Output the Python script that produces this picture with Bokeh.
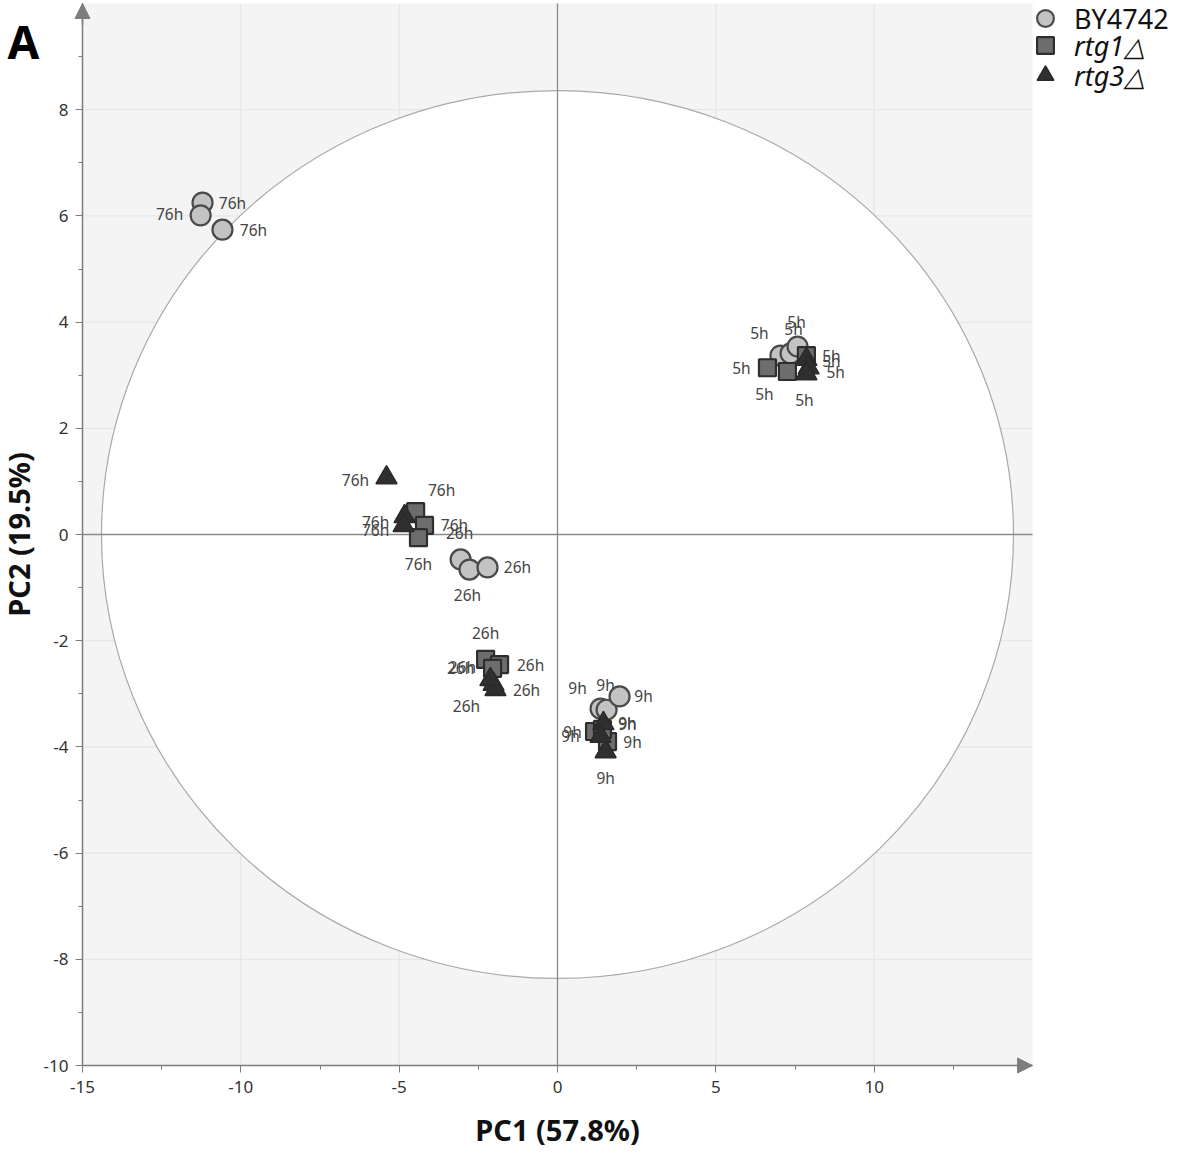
from bokeh.plotting import figure
from bokeh.models import (Range1d, FixedTicker, Legend, LegendItem, Label, Arrow,
                          NormalHead, ColumnDataSource, LinearAxis)
from bokeh.core.properties import value
from bokeh.embed import file_html
from bokeh.resources import INLINE

# ---------------- data ----------------
groups = ["BY4742", "rtg1△", "rtg3△"]

by_x = [-11.21, -11.27, -10.58, -3.06, -2.78, -2.21, 1.36, 1.55, 1.96, 7.04, 7.36, 7.58]
by_y = [6.25, 6.01, 5.74, -0.47, -0.66, -0.62, -3.28, -3.30, -3.05, 3.37, 3.41, 3.54]
by_t = ["76h", "76h", "76h", "26h", "26h", "26h", "9h", "9h", "9h", "5h", "5h", "5h"]

r1_x = [-4.48, -4.20, -4.39, -2.27, -1.83, -2.05, 1.17, 1.58, 1.42, 6.63, 7.26, 7.86]
r1_y = [0.43, 0.17, -0.06, -2.35, -2.45, -2.52, -3.71, -3.90, -3.67, 3.14, 3.07, 3.37]
r1_t = ["76h", "76h", "76h", "26h", "26h", "26h", "9h", "9h", "9h", "5h", "5h", "5h"]

r3_x = [-5.40, -4.83, -4.86, -2.02, -1.96, -2.12, 1.52, 1.45, 1.36, 7.86, 7.93, 7.86]
r3_y = [1.07, 0.34, 0.17, -2.82, -2.92, -2.73, -4.09, -3.56, -3.80, 3.30, 3.14, 3.03]
r3_t = ["76h", "76h", "76h", "26h", "26h", "26h", "9h", "9h", "9h", "5h", "5h", "5h"]

# label placement offsets (screen px, style only)
by_dx = [30, -31, 31, -1, -2, 30, -23, -1, 24, -21, 3, -1]
by_dy = [0, -1, 0, -26, 25, 0, -21, -25, 0, -23, -24, -25]
r1_dx = [26, 30, 0, 0, 31, -32, -22, 25, 25, -26, -23, 25]
r1_dy = [-22, 0, 26, -26, 0, 0, 0, 0, -6, 0, 23, 0]
r3_dx = [-31, -29, -28, 33, -29, -28, 0, 24, -30, 25, 27, -2]
r3_dy = [2, 6, 5, 6, 16, -12, 26, 0, 0, 2, 4, 26]

x_ticks = [-15, -10, -5, 0, 5, 10]
y_ticks = [-10, -8, -6, -4, -2, 0, 2, 4, 6, 8]
x_minor = [-12.5, -7.5, -2.5, 2.5, 7.5, 12.5]
y_minor = [-9, -7, -5, -3, -1, 1, 3, 5, 7, 9]

XMIN, XMAX = -15, 15
YMIN, YMAX = -10, 10

ellipse_w = 28.8   # Hotelling T2 ellipse full width (PC1)
ellipse_h = 16.72  # full height (PC2)

# ---------------- layout constants (pixels) ----------------
W, H = 1182, 1153
LEFT, RIGHT, TOP, BOTTOM = 82, 1032, 3, 1065
sx = (RIGHT - LEFT) / (XMAX - XMIN)
sy = (BOTTOM - TOP) / (YMAX - YMIN)
xr = Range1d(XMIN - LEFT / sx, XMAX + (W - RIGHT) / sx)
yr = Range1d(YMIN - (H - BOTTOM) / sy, YMAX + TOP / sy)

FONT = "Noto Sans"
AX = "#7d7d7d"
GRID = "#e3e3e3"

p = figure(width=W, height=H, output_backend="svg", toolbar_location=None,
           x_range=xr, y_range=yr, x_axis_location=None, y_axis_location=None,
           min_border=0)
p.outline_line_color = None
p.background_fill_color = "white"
p.border_fill_color = "white"
p.grid.visible = False

# plot-area background
p.quad(left=[XMIN], right=[XMAX], bottom=[YMIN], top=[YMAX],
       fill_color="#f4f4f4", line_color=None, level="image")

# grid lines at the major ticks, limited to the plot area
p.segment(x0=x_ticks, y0=[YMIN] * len(x_ticks), x1=x_ticks, y1=[YMAX] * len(x_ticks),
          line_color=GRID, line_width=1, level="underlay")
p.segment(x0=[XMIN] * len(y_ticks), y0=y_ticks, x1=[XMAX] * len(y_ticks), y1=y_ticks,
          line_color=GRID, line_width=1, level="underlay")

xaxis = LinearAxis(fixed_location=YMIN, bounds=(XMIN, XMAX),
                   ticker=FixedTicker(ticks=x_ticks, minor_ticks=x_minor),
                   axis_label="PC1 (57.8%)")
yaxis = LinearAxis(fixed_location=XMIN, bounds=(YMIN, YMAX),
                   ticker=FixedTicker(ticks=y_ticks, minor_ticks=y_minor),
                   axis_label="PC2 (19.5%)")
xaxis.major_label_overrides = {t: str(t) for t in x_ticks}
yaxis.major_label_overrides = {t: str(t) for t in y_ticks}
for ax in (xaxis, yaxis):
    ax.axis_line_color = AX
    ax.axis_line_width = 1.5
    ax.major_tick_line_color = AX
    ax.minor_tick_line_color = AX
    ax.major_tick_out = 7
    ax.major_tick_in = 0
    ax.minor_tick_out = 4
    ax.minor_tick_in = 0
    ax.major_label_text_font = FONT
    ax.major_label_text_font_size = "17px"
    ax.major_label_text_color = "#333333"
    ax.axis_label_text_font = FONT
    ax.axis_label_text_font_size = "29px"
    ax.axis_label_text_font_style = "bold"
    ax.axis_label_text_color = "#111111"
xaxis.major_label_standoff = 8
xaxis.axis_label_standoff = 14
yaxis.major_label_standoff = 7
yaxis.axis_label_standoff = 3
p.add_layout(xaxis, "below")
p.add_layout(yaxis, "left")

# ellipse and zero lines
p.ellipse(x=[0], y=[0], width=[ellipse_w], height=[ellipse_h],
          fill_color="white", line_color="#a9a9a9", line_width=1.2)
p.segment(x0=[0, XMIN], y0=[YMIN, 0], x1=[0, XMAX], y1=[YMAX, 0],
          line_color="#8a8a8a", line_width=1.3)

src_by = ColumnDataSource(dict(x=by_x, y=by_y, t=by_t, dx=by_dx, dy=by_dy))
src_r1 = ColumnDataSource(dict(x=r1_x, y=r1_y, t=r1_t, dx=r1_dx, dy=r1_dy))
src_r3 = ColumnDataSource(dict(x=r3_x, y=r3_y, t=r3_t, dx=r3_dx, dy=r3_dy))

for s in (src_by, src_r1, src_r3):
    p.text(x="x", y="y", source=s, text="t", x_offset="dx", y_offset="dy",
           text_align="center", text_baseline="middle", text_font=value(FONT),
           text_font_size="15.5px", text_color="#454545")

r_by = p.scatter("x", "y", source=src_by, marker="circle", size=20,
                 fill_color="#c3c3c3", line_color="#4a4a4a", line_width=2.2)
r_r1 = p.scatter("x", "y", source=src_r1, marker="square", size=17,
                 fill_color="#6d6d6d", line_color="#2e2e2e", line_width=2.2)
r_r3 = p.scatter("x", "y", source=src_r3, marker="triangle", size=21,
                 fill_color="#2f2f2f", line_color="#2a2a2a", line_width=1.5)

leg_kw = dict(border_line_alpha=0, background_fill_alpha=0, padding=0, margin=0,
              spacing=0, glyph_width=42, glyph_height=42, label_standoff=8,
              label_text_font=FONT, label_text_font_size="27px", label_text_color="#111111",
              label_height=42, label_text_baseline="middle")
# one legend per entry: the strain names of the mutants are italic
leg_rows = [(groups[0], r_by, "normal", 18), (groups[1], r_r1, "italic", 45),
            (groups[2], r_r3, "italic", 75)]
for lab, rend, style, cy in leg_rows:
    p.add_layout(Legend(items=[LegendItem(label=lab, renderers=[rend])],
                        location=(1024, H - cy - 21), label_text_font_style=style,
                        **leg_kw))

# axis arrow heads
head = dict(size=15, fill_color=AX, line_color=AX)
p.add_layout(Arrow(end=NormalHead(**head), x_start=XMIN, y_start=YMAX - 0.4,
                   x_end=XMIN, y_end=YMAX, line_color=AX, line_width=1.5))
p.add_layout(Arrow(end=NormalHead(**head), x_start=XMAX - 0.5, y_start=YMIN,
                   x_end=XMAX, y_end=YMIN, line_color=AX, line_width=1.5))

p.add_layout(Label(x=7, y=H - 40, x_units="screen", y_units="screen", text="A",
                   text_font=FONT, text_font_size="46px", text_font_style="bold",
                   text_baseline="middle", text_align="left", text_color="black"))

open("out.html", "w").write(file_html(p, INLINE))
